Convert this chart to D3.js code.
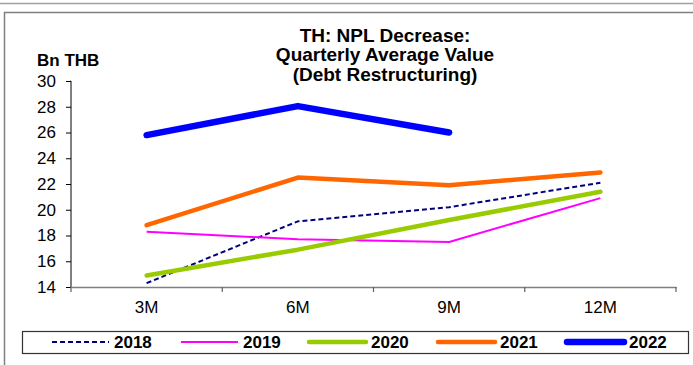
<!DOCTYPE html>
<html>
<head>
<meta charset="utf-8">
<script src="https://cdn.jsdelivr.net/npm/d3@7"></script>
<style>
  html, body { margin: 0; padding: 0; background: #fff; }
  svg { display: block; font-family: "Liberation Sans", Arial, sans-serif; }
</style>
</head>
<body>
<svg id="chart" width="693" height="365"></svg>
<script>
// Quarterly average NPL decrease from debt restructuring (Bn THB)
const categories = ["3M", "6M", "9M", "12M"];
const years = ["2018", "2019", "2020", "2021", "2022"];
const v2018 = [14.3, 19.1, 20.2, 22.1];
const v2019 = [18.3, 17.7, 17.5, 20.9];
const v2020 = [14.9, 16.9, 19.2, 21.4];
const v2021 = [18.8, 22.5, 21.9, 22.9];
const v2022 = [25.8, 28.05, 26.0];
const yTicks = [14, 16, 18, 20, 22, 24, 26, 28, 30];
const titleLines = ["TH: NPL Decrease:", "Quarterly Average Value", "(Debt Restructuring)"];

const seriesValues = [v2018, v2019, v2020, v2021, v2022];
const styles = [
  { color: "#000080", width: 2, dash: "5,3", cap: "butt" },
  { color: "#FF00FF", width: 2, dash: null, cap: "butt" },
  { color: "#99CC00", width: 4.5, dash: null, cap: "round" },
  { color: "#FF6600", width: 4.5, dash: null, cap: "round" },
  { color: "#0000FF", width: 6.5, dash: null, cap: "round" }
];

const svg = d3.select("#chart");

// outer frames
svg.append("line").attr("x1", 0).attr("x2", 693).attr("y1", 3.5).attr("y2", 3.5)
  .attr("stroke", "#a0a0a0").attr("stroke-width", 1.5);
svg.append("path").attr("d", "M4.5,365 V12.5 H693")
  .attr("fill", "none").attr("stroke", "#808080").attr("stroke-width", 1.5);

const x = d3.scaleBand().domain(categories).range([71, 676]).padding(0);
const y = d3.scaleLinear().domain([14, 30]).range([287, 81]);
const cx = d => x(d) + x.bandwidth() / 2;

// title
const title = svg.append("text").attr("text-anchor", "middle")
  .attr("font-weight", "bold").attr("font-size", 19).attr("fill", "#000");
titleLines.forEach((t, i) => {
  title.append("tspan").attr("x", 385).attr("y", 41.5 + i * 19.5).text(t);
});

// unit label
svg.append("text").attr("x", 37).attr("y", 66).attr("font-weight", "bold")
  .attr("font-size", 17).text("Bn THB");

// y axis
const yAxis = svg.append("g").attr("transform", "translate(71,0)")
  .call(d3.axisLeft(y).tickValues(yTicks).tickSize(5).tickPadding(10).tickFormat(d3.format("d")));
yAxis.select(".domain").attr("stroke", "#000").attr("d", `M-0.5,${y(30)}H0V${y(14)}`);
yAxis.selectAll(".tick line").attr("stroke", "#000");
yAxis.selectAll(".tick text").attr("font-size", 17).attr("fill", "#000")
  .attr("font-family", "Liberation Sans, Arial, sans-serif");

// x axis: labels centred in each category, tick marks on category boundaries
const xAxis = svg.append("g").attr("transform", "translate(0,287)")
  .call(d3.axisBottom(x).tickSize(0).tickPadding(14));
xAxis.select(".domain").attr("stroke", "#808080").attr("stroke-width", 1.5);
xAxis.selectAll(".tick text").attr("font-size", 17).attr("fill", "#000")
  .attr("font-family", "Liberation Sans, Arial, sans-serif");
const bounds = categories.map(c => x(c)).concat([x.range()[1]]);
xAxis.selectAll(".bound").data(bounds).enter().append("line")
  .attr("class", "bound")
  .attr("x1", d => d).attr("x2", d => d).attr("y1", 0).attr("y2", 5)
  .attr("stroke", "#606060").attr("stroke-width", 1.2);

// series lines
const line = d3.line().x((d, i) => cx(categories[i])).y(d => y(d));
seriesValues.forEach((vals, i) => {
  const s = styles[i];
  svg.append("path").datum(vals)
    .attr("d", line)
    .attr("fill", "none")
    .attr("stroke", s.color)
    .attr("stroke-width", s.width)
    .attr("stroke-linecap", s.cap)
    .attr("stroke-linejoin", "round")
    .attr("stroke-dasharray", s.dash);
});

// legend
svg.append("rect").attr("x", 22.5).attr("y", 331.5).attr("width", 666).attr("height", 22)
  .attr("fill", "#fff").attr("stroke", "#333").attr("stroke-width", 1.2);
const legendX = [52, 181, 309, 438, 567];
years.forEach((yr, i) => {
  const s = styles[i];
  const g = svg.append("g").attr("transform", `translate(${legendX[i]},342)`);
  g.append("line").attr("x1", 0).attr("x2", 57).attr("y1", 0).attr("y2", 0)
    .attr("stroke", s.color).attr("stroke-width", s.width)
    .attr("stroke-linecap", s.cap === "round" ? "round" : "butt")
    .attr("stroke-dasharray", s.dash);
  g.append("text").attr("x", 62).attr("y", 6).attr("font-weight", "bold")
    .attr("font-size", 17).text(yr);
});
</script>
</body>
</html>
